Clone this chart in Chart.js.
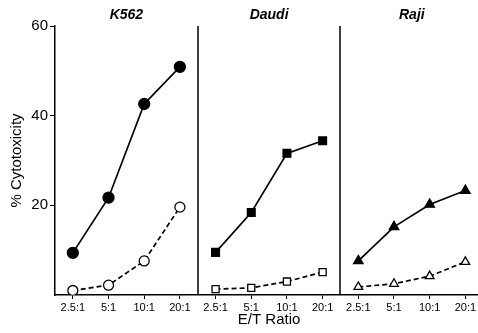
<!DOCTYPE html>
<html>
<head>
<meta charset="utf-8">
<script src="https://cdn.jsdelivr.net/npm/chart.js@4/dist/chart.umd.min.js"></script>
<style>
  html, body { margin: 0; padding: 0; background: #fff; overflow: hidden; }
  #wrap { width: 490px; height: 333px; }
</style>
</head>
<body>
<div id="wrap"><canvas id="chart" width="490" height="333"></canvas></div>
<script>
// E/T ratios, repeated once per target cell panel
const ratios = ["2.5:1", "5:1", "10:1", "20:1"];
const panels = ["K562", "Daudi", "Raji"];
const yTicks = [20, 40, 60];

// % cytotoxicity
const k562Filled = [9.4, 21.7, 42.6, 50.9];
const k562Open = [1.0, 2.2, 7.6, 19.6];
const daudiFilled = [9.5, 18.4, 31.6, 34.4];
const daudiOpen = [1.3, 1.6, 3.0, 5.1];
const rajiFilled = [7.6, 15.2, 20.2, 23.3];
const rajiOpen = [1.8, 2.5, 4.2, 7.4];

const labels = panels.flatMap(() => ratios);

// put a panel's 4 values into its slot of the 12 categories
function inPanel(panelIndex, values) {
    const out = Array(labels.length).fill(null);
    values.forEach((v, i) => { out[panelIndex * ratios.length + i] = v; });
    return out;
}

function series(panelIndex, values, style, filled) {
    return {
        data: inPanel(panelIndex, values),
        borderColor: '#000',
        borderWidth: 1.7,
        borderDash: filled ? [] : [5, 3],
        pointStyle: style,
        pointRadius: filled ? 5.5 : 5,
        pointBorderWidth: 1.3,
        pointBackgroundColor: filled ? '#000' : '#fff',
        pointBorderColor: '#000',
        spanGaps: false,
        tension: 0
    };
}

// vertical dividers between panels and the bold italic panel names
const panelPlugin = {
    id: 'panels',
    afterDraw(chart) {
        const ctx = chart.ctx;
        const x = chart.scales.x;
        const area = chart.chartArea;
        ctx.save();
        ctx.strokeStyle = '#000';
        ctx.lineWidth = 1.5;
        for (let p = 1; p < panels.length; p++) {
            const px = Math.round(x.getPixelForValue(p * ratios.length - 0.5));
            ctx.beginPath();
            ctx.moveTo(px, area.top);
            ctx.lineTo(px, area.bottom);
            ctx.stroke();
        }
        ctx.fillStyle = '#000';
        ctx.font = 'italic bold 14px "Liberation Sans", Arial, sans-serif';
        ctx.textAlign = 'center';
        ctx.textBaseline = 'middle';
        panels.forEach((name, p) => {
            const cx = x.getPixelForValue(p * ratios.length + (ratios.length - 1) / 2);
            ctx.fillText(name, cx, 15);
        });
        ctx.restore();
    }
};

const font = '"Liberation Sans", Arial, Helvetica, sans-serif';

new Chart(document.getElementById('chart'), {
    type: 'line',
    data: {
        labels: labels,
        datasets: [
            series(0, k562Filled, 'circle', true),
            series(0, k562Open, 'circle', false),
            series(1, daudiFilled, 'rect', true),
            series(1, daudiOpen, 'rect', false),
            series(2, rajiFilled, 'triangle', true),
            series(2, rajiOpen, 'triangle', false)
        ]
    },
    options: {
        responsive: false,
        animation: false,
        layout: { padding: { top: 26, right: 3, left: 0, bottom: 0 } },
        plugins: { legend: { display: false }, tooltip: { enabled: false } },
        scales: {
            x: {
                type: 'category',
                offset: true,
                afterFit(scale) { scale.height = 38; },
                grid: { drawOnChartArea: false, tickLength: 4, color: '#000', lineWidth: 1 },
                border: { color: '#000', width: 1.5 },
                ticks: { color: '#000', font: { family: font, size: 11 }, maxRotation: 0, autoSkip: false, padding: 2 },
                title: { display: true, text: 'E/T Ratio', color: '#000', font: { family: font, size: 15 }, padding: { top: 3 } }
            },
            y: {
                min: 0,
                max: 60,
                afterFit(scale) { scale.width = 55; },
                afterBuildTicks(scale) { scale.ticks = yTicks.map(v => ({ value: v })); },
                grid: { drawOnChartArea: false, tickLength: 5, color: '#000', lineWidth: 1 },
                border: { color: '#000', width: 1.5 },
                ticks: { color: '#000', font: { family: font, size: 15 }, padding: 2 },
                title: { display: true, text: '% Cytotoxicity', color: '#000', font: { family: font, size: 15 }, padding: { top: 8, bottom: 0 } }
            }
        }
    },
    plugins: [panelPlugin]
});
</script>
</body>
</html>
